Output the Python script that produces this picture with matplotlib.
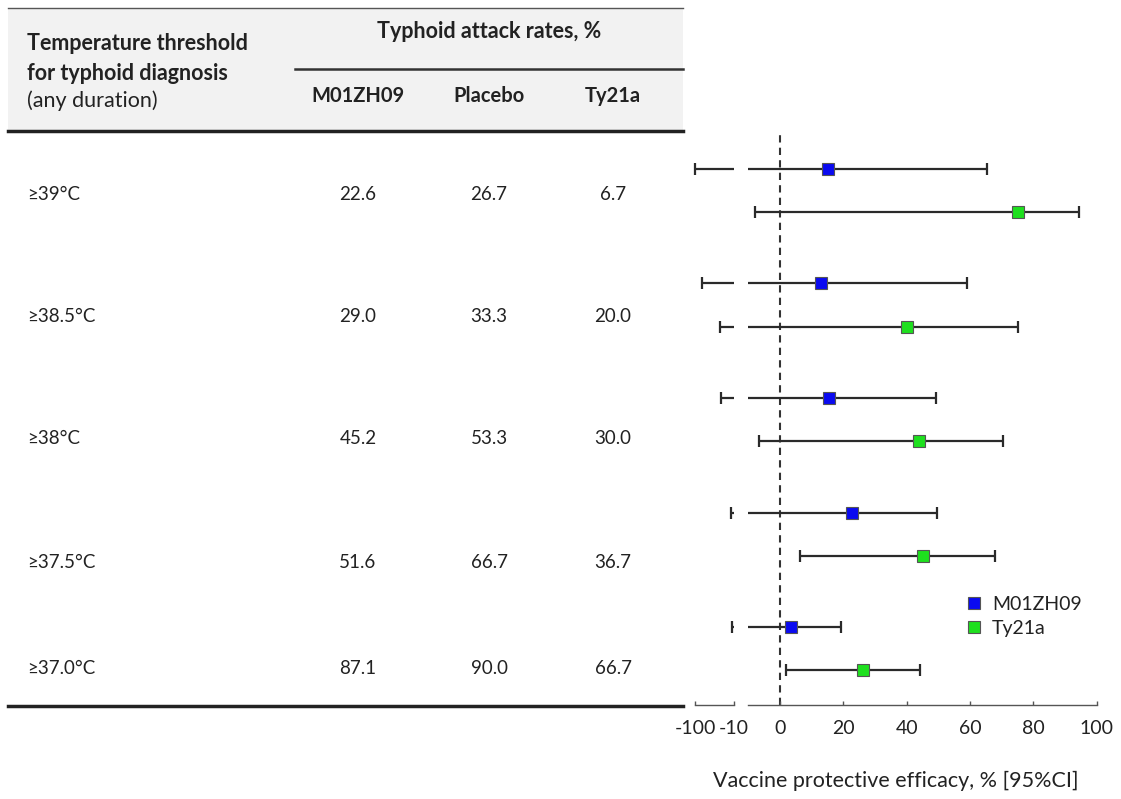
import matplotlib
matplotlib.use("Agg")
import matplotlib.pyplot as plt
from matplotlib.lines import Line2D
from matplotlib.patches import Rectangle

# ---------------- data ----------------
thresholds = ["≥39°C", "≥38.5°C", "≥38°C", "≥37.5°C", "≥37.0°C"]
groups = ["M01ZH09", "Placebo", "Ty21a"]
rate_m01 = ["22.6", "29.0", "45.2", "51.6", "87.1"]
rate_placebo = ["26.7", "33.3", "53.3", "66.7", "90.0"]
rate_ty21a = ["6.7", "20.0", "30.0", "36.7", "66.7"]

eff_m01 = [15.2, 13.0, 15.5, 22.8, 3.4]
lo_m01 = [-100, -84, -41, -17, -15]
hi_m01 = [65.3, 58.9, 49.4, 49.5, 19.3]

eff_ty = [75.1, 40.1, 43.9, 45.2, 26.1]
lo_ty = [-7.9, -43, -6.5, 6.3, 1.9]
hi_ty = [94.3, 75.2, 70.4, 67.9, 44.2]

series_names = ["M01ZH09", "Ty21a"]
series_colors = ["#0a0af0", "#1ee01e"]

# ---------------- figure ----------------
W, H = 1121, 799
plt.rcParams['font.family'] = ['Lato', 'DejaVu Sans']
fig = plt.figure(figsize=(W / 100, H / 100), dpi=100)

# table layer in pixel coordinates
tab = fig.add_axes([0, 0, 1, 1])
tab.set_xlim(0, W)
tab.set_ylim(H, 0)
tab.axis('off')

tab.add_patch(Rectangle((8, 8), 675, 123, facecolor='#f2f2f2', edgecolor='none', zorder=0))
tab.plot([8, 683], [8, 8], color='#555555', lw=1.0)
tab.plot([295, 683], [69, 69], color='#333333', lw=1.8)
tab.plot([8, 683], [131, 131], color='#222222', lw=2.5)
tab.plot([8, 683], [706, 706], color='#222222', lw=2.5)

txt_col = '#222222'
hdr_fs = 15.5
tab.text(27, 44, "Temperature threshold", fontsize=hdr_fs, fontweight='bold', va='center', ha='left', color=txt_col)
tab.text(27, 73, "for typhoid diagnosis", fontsize=hdr_fs, fontweight='bold', va='center', ha='left', color=txt_col)
tab.text(27, 101, "(any duration)", fontsize=hdr_fs, va='center', ha='left', color=txt_col)
tab.text(489, 31, "Typhoid attack rates, %", fontsize=hdr_fs, fontweight='bold', va='center', ha='center', color=txt_col)

col_x = [358, 489, 613]
for cx, g in zip(col_x, groups):
    tab.text(cx, 96, g, fontsize=14.5, fontweight='bold', va='center', ha='center', color=txt_col)

row_y = [194, 316, 439, 563, 668]
for ry, lab, a, b, c in zip(row_y, thresholds, rate_m01, rate_placebo, rate_ty21a):
    tab.text(27, ry, lab, fontsize=13.5, va='center', ha='left', color=txt_col)
    for cx, v in zip(col_x, (a, b, c)):
        tab.text(cx, ry, v, fontsize=13.5, va='center', ha='center', color=txt_col)

# ---------------- forest plot ----------------
top_px, bot_px = 133, 705
rb = 1 - bot_px / H
rh = (bot_px - top_px) / H
ax_r = fig.add_axes([748.3 / W, rb, (1096.7 - 748.3) / W, rh])
ax_l = fig.add_axes([695 / W, rb, (734 - 695) / W, rh])

for ax in (ax_l, ax_r):
    ax.set_facecolor('none')
    for s in ('top', 'right', 'left'):
        ax.spines[s].set_visible(False)
    ax.spines['bottom'].set_color('#555555')
    ax.spines['bottom'].set_linewidth(1.0)
    ax.set_yticks([])
    ax.set_ylim(4.493, -0.502)
    ax.tick_params(axis='x', direction='in', length=3, width=1, color='#555555',
                   labelsize=14, pad=11, labelcolor=txt_col)

ax_r.set_xlim(-10, 100)
ax_r.set_xticks([0, 20, 40, 60, 80, 100])
ax_l.set_xlim(-100, -10)
ax_l.set_xticks([-100, -10])
ax_l.set_xticklabels(["-100", "-10"])

ax_r.axvline(0, color='#333333', lw=1.5, ls=(0, (3.5, 2.5)), zorder=1)

offs = [-0.188, 0.188]
line_col = '#2a2a2a'
for si, (eff, lo, hi) in enumerate([(eff_m01, lo_m01, hi_m01), (eff_ty, lo_ty, hi_ty)]):
    for i in range(len(eff)):
        y = i + offs[si]
        # right segment
        start = max(lo[i], -10)
        ax_r.plot([start, hi[i]], [y, y], color=line_col, lw=1.6, zorder=2, clip_on=False,
                  solid_capstyle='butt')
        ax_r.plot([hi[i]], [y], marker='|', ms=9, mew=1.6, color=line_col, zorder=2, clip_on=False)
        if lo[i] >= -10:
            ax_r.plot([lo[i]], [y], marker='|', ms=9, mew=1.6, color=line_col, zorder=2, clip_on=False)
        else:
            ax_l.plot([lo[i], -10], [y, y], color=line_col, lw=1.6, zorder=2, clip_on=False,
                      solid_capstyle='butt')
            ax_l.plot([lo[i]], [y], marker='|', ms=9, mew=1.6, color=line_col, zorder=2, clip_on=False)
        ax_r.plot([eff[i]], [y], marker='s', ms=8, mfc=series_colors[si], mec='#555555',
                  mew=0.8, zorder=3, clip_on=False)

handles = [Line2D([], [], ls='none', marker='s', ms=8, mfc=c, mec='#555555', mew=0.8)
           for c in series_colors]
fig.legend(handles, series_names, loc='upper left', bbox_to_anchor=(955 / W, 1 - 586 / H),
           frameon=False, fontsize=14, handletextpad=0.4, labelspacing=0.35,
           borderpad=0, handlelength=1.0, labelcolor=txt_col)

fig.text(896 / W, 1 - 781 / H, "Vaccine protective efficacy, % [95%CI]", fontsize=15.5,
         ha='center', va='center', color=txt_col)

fig.savefig("out.png", dpi=100)
